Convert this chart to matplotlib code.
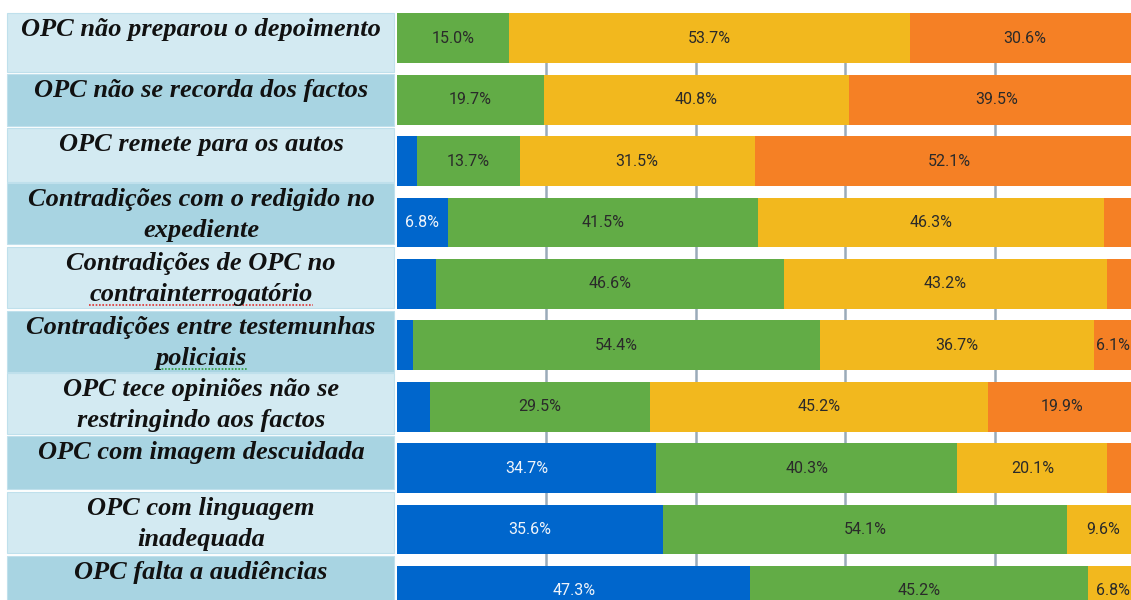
import numpy as np
import matplotlib.pyplot as plt
from matplotlib.patches import Rectangle

# row labels (line breaks as in the original table)
categories = [
    'OPC não preparou o depoimento',
    'OPC não se recorda dos factos',
    'OPC remete para os autos',
    'Contradições com o redigido no\nexpediente',
    'Contradições de OPC no\ncontrainterrogatório',
    'Contradições entre testemunhas\npoliciais',
    'OPC tece opiniões não se\nrestringindo aos factos',
    'OPC com imagem descuidada',
    'OPC com linguagem\ninadequada',
    'OPC falta a audiências',
]

# percentages per answer, left to right
blue = [0.0, 0.0, 2.7, 6.8, 5.2, 2.2, 4.4, 34.7, 35.6, 47.3]
green = [15.0, 19.7, 13.7, 41.5, 46.6, 54.4, 29.5, 40.3, 54.1, 45.2]
yellow = [53.7, 40.8, 31.5, 46.3, 43.2, 36.7, 45.2, 20.1, 9.6, 6.8]
orange = [30.6, 39.5, 52.1, 5.4, 5.0, 6.1, 19.9, 4.9, 0.7, 0.7]

series = [blue, green, yellow, orange]
colors = ['#0066cc', '#62ac46', '#f2b81e', '#f58025']
text_colors = ['#f0f4fa', '#2a2a2a', '#2a2a2a', '#2a2a2a']

W, H = 1131, 600
x0 = 397          # pixel where the bars start
px_per_pct = 7.47
row0, pitch = 38.3, 61.4
bar_h = 0.81

fig = plt.figure(figsize=(W / 100, H / 100), dpi=100)

# left table with the labels
tab = fig.add_axes([0, 0, 1, 1])
tab.set_xlim(0, W)
tab.set_ylim(H, 0)
tab.axis('off')

cells = [(13, 72), (74, 126), (128, 182), (183, 244), (247, 308),
         (311, 372), (373, 434), (436, 489), (492, 553), (556, 620)]
cell_fill = ['#d3eaf2', '#a8d4e2']
underline = {'contrainterrogatório': '#e03030', 'policiais': '#2f9a3a'}

txts = []
for i, (top, bot) in enumerate(cells):
    tab.add_patch(Rectangle((7, top), 387, bot - top, facecolor=cell_fill[i % 2],
                            edgecolor='#bfe0ec', lw=0.8))
    for k, line in enumerate(categories[i].split('\n')):
        t = tab.text(201, top + 23 + 31 * k, line, ha='center', va='baseline',
                     family=['Liberation Serif', 'DejaVu Serif'], weight='bold',
                     style='italic', fontsize=19, color='#111111')
        if line in underline:
            txts.append((t, underline[line], top + 23 + 31 * k))

# stacked bars
ax = fig.add_axes([x0 / W, 0, 1 - x0 / W, 1])
xmax = (W - x0) / px_per_pct
ax.set_xlim(0, xmax)
ax.set_ylim((H - row0) / pitch, -row0 / pitch)
ax.axis('off')

ax.vlines([20, 40, 60, 80], -bar_h / 2, len(categories), color='#9aabb9', lw=1.8, zorder=0)

y = np.arange(len(categories))
left = np.zeros(len(categories))
for vals, c, tc in zip(series, colors, text_colors):
    vals = np.array(vals)
    ax.barh(y, vals, left=left, height=bar_h, color=c, zorder=2)
    for yi, v, l in zip(y, vals, left):
        if v >= 6:
            # keep the label inside the visible area
            xc = min(l + v / 2, xmax - 2.4)
            ax.text(xc, yi, f'{v:.1f}%', ha='center', va='center',
                    family=['Roboto', 'DejaVu Sans'], fontsize=11.5, color=tc, zorder=3)
    left += vals

# spell-check squiggles under two words
fig.canvas.draw()
r = fig.canvas.get_renderer()
for t, c, base in txts:
    bb = t.get_window_extent(r)
    xs = np.linspace(bb.x0, bb.x1, 2)
    tab.plot(xs, [base + 4, base + 4], color=c, lw=1.2, ls=(0, (1, 1)))

fig.savefig('out.png', dpi=100)
